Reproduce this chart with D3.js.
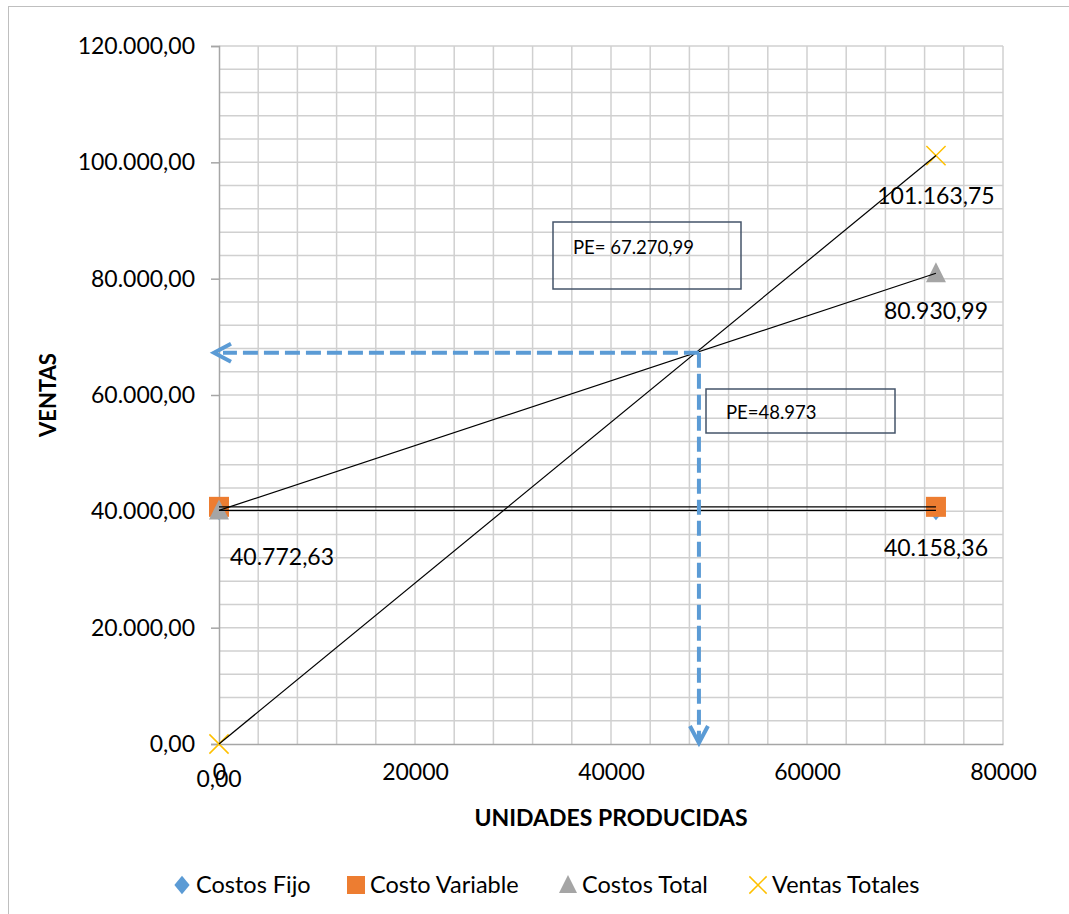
<!DOCTYPE html>
<html>
<head>
<meta charset="utf-8">
<script src="https://cdn.jsdelivr.net/npm/d3@7"></script>
<style>
  html, body { margin: 0; padding: 0; background: #fff; }
  svg text { font-family: Lato, "Open Sans", sans-serif; fill: #000; }
</style>
</head>
<body>
<svg id="chart" width="1069" height="914"></svg>
<script>
// Break-even data: units produced vs. costs and sales
const units = [0, 73160];
const costosFijo = [40158.36, 40158.36];
const costoVariable = [40772.63, 40772.63];
const costosTotal = [40158.36, 80930.99];
const ventasTotales = [0, 101163.75];
const xTicks = [0, 20000, 40000, 60000, 80000];
const yTicks = [0, 20000, 40000, 60000, 80000, 100000, 120000];
const seriesNames = ["Costos Fijo", "Costo Variable", "Costos Total", "Ventas Totales"];
const peUnidades = 48973;
const peVentas = 67270.99;

const locale = d3.formatLocale({ decimal: ",", thousands: ".", grouping: [3], currency: ["", ""] });
const fmtMoney = locale.format(",.2f");
const fmtUnits = locale.format(",.0f");

const svg = d3.select("#chart");

// chart area frame
svg.append("rect").attr("x", 8.5).attr("y", 6.5).attr("width", 1100).attr("height", 1000)
  .attr("fill", "none").attr("stroke", "#bfbfbf").attr("stroke-width", 1);

const x = d3.scaleLinear().domain([0, 80000]).range([219, 1003]);
const y = d3.scaleLinear().domain([0, 120000]).range([744, 46]);

// grid
const grid = svg.append("g");
grid.selectAll("line.v").data(d3.range(4000, 80001, 4000)).enter().append("line")
  .attr("x1", d => x(d)).attr("x2", d => x(d)).attr("y1", y(0)).attr("y2", y(120000))
  .attr("stroke", "#d0d0d0").attr("stroke-width", 1.5);
grid.selectAll("line.h").data(d3.range(4000, 120001, 4000)).enter().append("line")
  .attr("x1", x(0)).attr("x2", x(80000)).attr("y1", d => y(d)).attr("y2", d => y(d))
  .attr("stroke", "#d0d0d0").attr("stroke-width", 1.5);

// axes
const yAxis = svg.append("g").attr("transform", `translate(${x(0)},0)`)
  .call(d3.axisLeft(y).tickValues(yTicks).tickFormat(fmtMoney).tickSize(8).tickPadding(16));
yAxis.select(".domain").attr("stroke", "#a6a6a6").attr("stroke-width", 1.5);
yAxis.selectAll(".tick line").attr("stroke", "#a6a6a6").attr("stroke-width", 1.5);
yAxis.selectAll(".tick text").attr("font-size", 23).attr("font-family", "Lato").attr("fill", "#000");

const xAxis = svg.append("g").attr("transform", `translate(0,${y(0)})`)
  .call(d3.axisBottom(x).tickValues(xTicks).tickFormat(d => String(d)).tickSize(0).tickPadding(20));
xAxis.select(".domain").attr("stroke", "#a6a6a6").attr("stroke-width", 1.5);
xAxis.selectAll(".tick text").attr("font-size", 23).attr("font-family", "Lato").attr("fill", "#000");

// axis titles
svg.append("text").attr("transform", "translate(56,395) rotate(-90)")
  .attr("text-anchor", "middle").attr("font-size", 22).attr("font-weight", "bold").text("VENTAS");
svg.append("text").attr("x", 611).attr("y", 826)
  .attr("text-anchor", "middle").attr("font-size", 23).attr("font-weight", "bold").text("UNIDADES PRODUCIDAS");

// markers
const colors = ["#5B9BD5", "#ED7D31", "#A5A5A5", "#FFC000"];
const allSeries = [costosFijo, costoVariable, costosTotal, ventasTotales];

function drawMarker(g, kind, cx, cy, s) {
  if (kind === 0) {
    g.append("path").attr("d", `M${cx},${cy - s * 0.55}L${cx + s * 0.45},${cy}L${cx},${cy + s * 0.55}L${cx - s * 0.45},${cy}Z`)
      .attr("fill", colors[0]);
  } else if (kind === 1) {
    g.append("rect").attr("x", cx - s / 2).attr("y", cy - s / 2).attr("width", s).attr("height", s)
      .attr("fill", colors[1]);
  } else if (kind === 2) {
    g.append("path").attr("d", `M${cx},${cy - s * 0.55}L${cx + s * 0.5},${cy + s * 0.45}L${cx - s * 0.5},${cy + s * 0.45}Z`)
      .attr("fill", colors[2]);
  } else {
    const h = s * 0.48;
    g.append("path").attr("d", `M${cx - h},${cy - h}L${cx + h},${cy + h}M${cx + h},${cy - h}L${cx - h},${cy + h}`)
      .attr("stroke", colors[3]).attr("stroke-width", 1.5).attr("fill", "none");
  }
}

const markers = svg.append("g");
allSeries.forEach((vals, k) => {
  vals.forEach((v, i) => drawMarker(markers, k, x(units[i]), y(v), k === 0 ? 18 : 20));
});

// series lines
const line = d3.line().x((d, i) => x(units[i])).y(d => y(d));
const lines = svg.append("g");
allSeries.forEach(vals => {
  lines.append("path").attr("d", line(vals)).attr("fill", "none")
    .attr("stroke", "#000").attr("stroke-width", 1.2);
});

// data labels
const labelSpec = [
  { s: 0, i: 1, dx: 0, dy: 46, anchor: "middle" },
  { s: 1, i: 0, dx: 11, dy: 58, anchor: "start" },
  { s: 2, i: 1, dx: 0, dy: 46, anchor: "middle" },
  { s: 3, i: 0, dx: 0, dy: 43, anchor: "middle" },
  { s: 3, i: 1, dx: 0, dy: 48, anchor: "middle" }
];
svg.append("g").selectAll("text").data(labelSpec).enter().append("text")
  .attr("x", d => x(units[d.i]) + d.dx)
  .attr("y", d => y(allSeries[d.s][d.i]) + d.dy)
  .attr("text-anchor", d => d.anchor)
  .attr("font-size", 23)
  .text(d => fmtMoney(allSeries[d.s][d.i]));

// break-even guide lines
const blue = "#5B9BD5";
const guides = svg.append("g").attr("fill", "none").attr("stroke", blue).attr("stroke-width", 4);
guides.append("path")
  .attr("d", `M${x(peUnidades)},${y(peVentas)}H${x(0) + 4}`)
  .attr("stroke-dasharray", "15,6");
guides.append("path")
  .attr("d", `M${x(peUnidades)},${y(peVentas)}V${y(0) - 4}`)
  .attr("stroke-dasharray", "15,6");
guides.append("path")
  .attr("d", `M${x(0) + 12},${y(peVentas) - 9}L${x(0) - 5},${y(peVentas)}L${x(0) + 12},${y(peVentas) + 9}`)
  .attr("stroke-linejoin", "miter");
guides.append("path")
  .attr("d", `M${x(peUnidades) - 9},${y(0) - 18}L${x(peUnidades)},${y(0) - 1}L${x(peUnidades) + 9},${y(0) - 18}`)
  .attr("stroke-linejoin", "miter");

// annotation boxes
svg.append("rect").attr("x", 553).attr("y", 222).attr("width", 188).attr("height", 67)
  .attr("fill", "none").attr("stroke", "#44546A").attr("stroke-width", 1.5);
svg.append("text").attr("x", 573).attr("y", 254).attr("font-size", 18.5)
  .text("PE= " + fmtMoney(peVentas));
svg.append("rect").attr("x", 706).attr("y", 389).attr("width", 189).attr("height", 44)
  .attr("fill", "none").attr("stroke", "#44546A").attr("stroke-width", 1.5);
svg.append("text").attr("x", 726).attr("y", 419).attr("font-size", 18.5)
  .text("PE=" + fmtUnits(peUnidades));

// legend
const legendX = [182, 356, 568, 758];
const legend = svg.append("g");
seriesNames.forEach((name, k) => {
  drawMarker(legend, k, legendX[k], 885, k === 0 ? 17 : 18);
  legend.append("text").attr("x", legendX[k] + 14).attr("y", 893).attr("font-size", 23.5).text(name);
});
</script>
</body>
</html>
